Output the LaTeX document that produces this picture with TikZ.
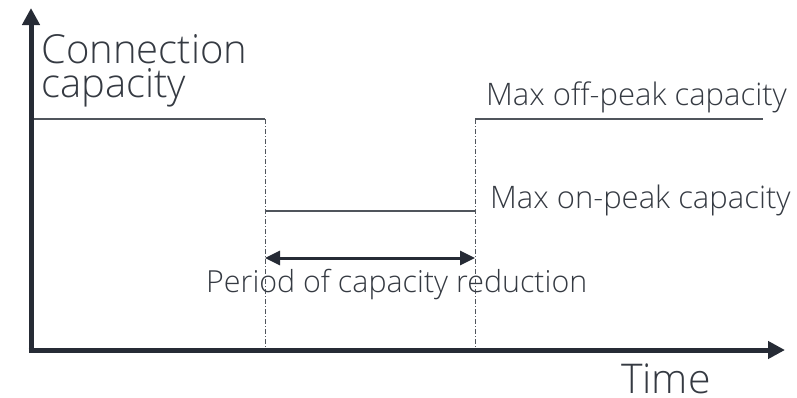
\documentclass[tikz,border=0pt]{standalone}
\usepackage{fontspec}
\setmainfont{Open Sans}[UprightFont={* Light}]
\usetikzlibrary{arrows.meta}
\definecolor{axiscol}{HTML}{262B35}
\definecolor{linecol}{HTML}{50555C}
\definecolor{txtcol}{HTML}{353A42}
\tikzset{
  axis/.style={line width=5pt, draw=axiscol, -{Triangle[length=17pt,width=17pt]}},
  level/.style={line width=1.5pt, draw=linecol},
  guide/.style={line width=1pt, draw=linecol, dash pattern=on 5pt off 2pt on 1pt off 2pt},
  span/.style={line width=3pt, draw=axiscol, {Triangle[length=15pt,width=14pt]}-{Triangle[length=15pt,width=14pt]}},
  lbl/.style={inner sep=0pt, anchor=base west, text=txtcol},
}
\begin{document}
\begin{tikzpicture}[x=1pt,y=-1pt]
\useasboundingbox (0,0) rectangle (797,397);
\coordinate (O) at (31,350);
\coordinate (Ytop) at (31,8);
\coordinate (Xend) at (785,350);
\coordinate (A) at (32,119);
\coordinate (B) at (265,119);
\coordinate (Bb) at (265,350);
\coordinate (C) at (475,119);
\coordinate (Cb) at (475,350);
\coordinate (D) at (763,119);
\coordinate (E) at (265,211);
\coordinate (F) at (475,211);
\coordinate (G) at (265,258);
\coordinate (H) at (475,258);
\draw[guide] (B) -- (Bb);
\draw[guide] (C) -- (Cb);
\draw[level] (A) -- (B);
\draw[level] (C) -- (D);
\draw[level] (E) -- (F);
\draw[span] (G) -- (H);
\draw[axis] ([yshift=2.5pt]O) -- (Ytop);
\draw[axis] ([xshift=-2.5pt]O) -- (Xend);
\node[lbl, align=left, font=\fontsize{40}{34}\selectfont] (yl) at (41,97) {Connection\\capacity};
\node[lbl, font=\fontsize{31}{31}\selectfont] (off) at (486,105) {Max off-peak capacity};
\node[lbl, font=\fontsize{31}{31}\selectfont] (on) at (490,208) {Max on-peak capacity};
\node[lbl, font=\fontsize{30.4}{30.4}\selectfont] (per) at (206,292) {Period of capacity reduction};
\node[lbl, font=\fontsize{41}{41}\selectfont] (time) at (621,393) {Time};
\end{tikzpicture}
\end{document}
